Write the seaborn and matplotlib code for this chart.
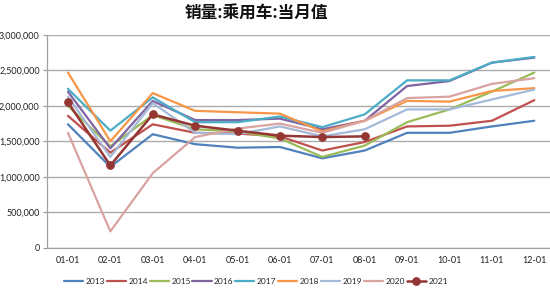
import matplotlib
matplotlib.use("Agg")
import matplotlib.pyplot as plt
import seaborn as sns
import pandas as pd
from matplotlib.ticker import FuncFormatter, MultipleLocator, FixedLocator

months = ["01-01", "02-01", "03-01", "04-01", "05-01", "06-01",
          "07-01", "08-01", "09-01", "10-01", "11-01", "12-01"]

s2013 = [1740000, 1140000, 1600000, 1460000, 1410000, 1420000, 1260000, 1370000, 1620000, 1620000, 1710000, 1790000]
s2014 = [1860000, 1340000, 1740000, 1620000, 1610000, 1570000, 1370000, 1490000, 1710000, 1720000, 1790000, 2080000]
s2015 = [2000000, 1430000, 1870000, 1670000, 1640000, 1540000, 1280000, 1440000, 1770000, 1950000, 2200000, 2470000]
s2016 = [2200000, 1400000, 2070000, 1800000, 1800000, 1820000, 1670000, 1790000, 2280000, 2350000, 2610000, 2680000]
s2017 = [2240000, 1650000, 2120000, 1770000, 1770000, 1850000, 1700000, 1880000, 2360000, 2360000, 2610000, 2690000]
s2018 = [2470000, 1500000, 2180000, 1930000, 1910000, 1890000, 1640000, 1790000, 2070000, 2060000, 2210000, 2250000]
s2019 = [2130000, 1280000, 2040000, 1620000, 1600000, 1710000, 1570000, 1670000, 1950000, 1950000, 2090000, 2230000]
s2020 = [1620000, 230000, 1050000, 1560000, 1680000, 1750000, 1620000, 1790000, 2110000, 2130000, 2310000, 2390000]
s2021 = [2050000, 1160000, 1880000, 1720000, 1650000, 1580000, 1560000, 1570000]

series = {"2013": s2013, "2014": s2014, "2015": s2015, "2016": s2016,
          "2017": s2017, "2018": s2018, "2019": s2019, "2020": s2020,
          "2021": s2021}
colors = {"2013": "#4F81BD", "2014": "#C0504D", "2015": "#9BBB59",
          "2016": "#8064A2", "2017": "#4BACC6", "2018": "#F79646",
          "2019": "#A5B9D8", "2020": "#D9A3A1", "2021": "#943634"}

rows = []
for yr, vals in series.items():
    for i, v in enumerate(vals):
        rows.append({"year": yr, "idx": i, "value": v})
df = pd.DataFrame(rows)

sns.set_style("white")
plt.rcParams["font.family"] = ["Lato", "DejaVu Sans"]

fig = plt.figure(figsize=(5.5, 2.89), dpi=100)
ax = fig.add_axes([0.085, 0.143, 0.925, 0.736])

for yr in series:
    sub = df[df["year"] == yr]
    if yr == "2021":
        sns.lineplot(data=sub, x="idx", y="value", ax=ax, color=colors[yr],
                     lw=1.8, marker="o", markersize=5.5, markeredgecolor=colors[yr],
                     label=yr, sort=False, zorder=5)
    else:
        sns.lineplot(data=sub, x="idx", y="value", ax=ax, color=colors[yr],
                     lw=1.6, label=yr, sort=False)

ax.set_xlim(-0.5, 11.5)
ax.set_ylim(0, 3000000)
ax.yaxis.set_major_locator(MultipleLocator(500000))
ax.yaxis.set_major_formatter(FuncFormatter(lambda v, p: f"{int(v):,}"))
ax.set_xticks(range(12))
ax.set_xticklabels(months)
ax.xaxis.set_minor_locator(FixedLocator([i + 0.5 for i in range(-1, 12)]))
ax.tick_params(axis="x", which="major", length=0, labelsize=6.5, pad=6, colors="#222222")
ax.tick_params(axis="x", which="minor", length=3, color="#999999", width=0.8, direction="out")
ax.tick_params(axis="y", which="major", length=3, color="#999999", width=0.8,
               labelsize=6.5, pad=2, direction="out", left=True)
for lab in ax.get_yticklabels():
    lab.set_color("#222222")
ax.set_xlabel("")
ax.set_ylabel("")
ax.grid(axis="y", color="#ABABAB", lw=1.0)
ax.set_axisbelow(True)
for s in ["top", "right"]:
    ax.spines[s].set_visible(False)
ax.spines["left"].set_color("#A0A0A0")
ax.spines["bottom"].set_color("#A0A0A0")
ax.spines["left"].set_linewidth(0.9)
ax.spines["bottom"].set_linewidth(0.9)

ax.legend_.remove()
handles, labels = ax.get_legend_handles_labels()
fig.legend(handles, labels, loc="center", bbox_to_anchor=(0.465, 0.025), ncol=9,
           frameon=False, fontsize=6, handlelength=2.3, handletextpad=0.3,
           columnspacing=0.2, borderaxespad=0)

fig.text(0.466, 0.952, "销量:乘用车:当月值", ha="center", va="center",
         fontsize=12, fontweight="bold",
         family=["Noto Sans CJK SC", "DejaVu Sans"], color="#111111")

fig.savefig("out.png", dpi=100)
